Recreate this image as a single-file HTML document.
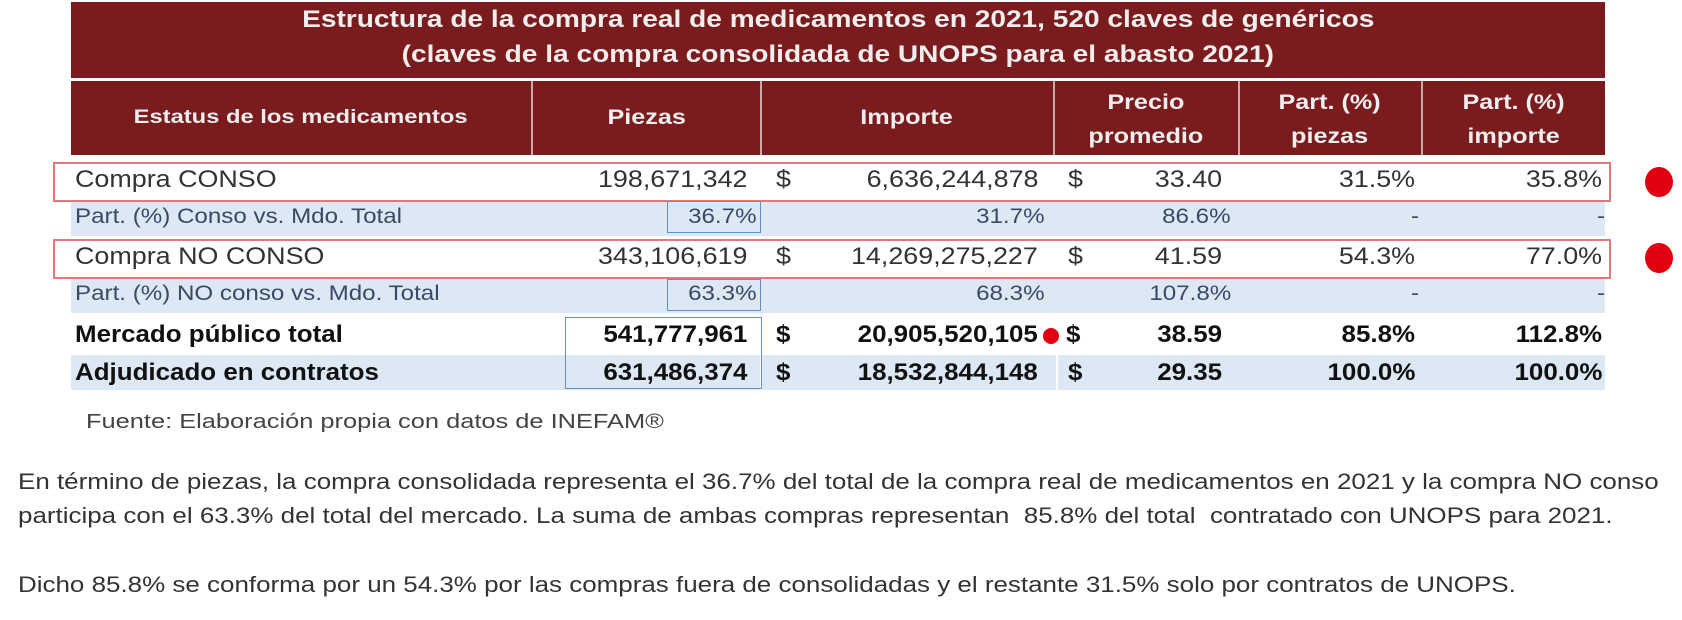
<!DOCTYPE html>
<html><head><meta charset="utf-8"><style>
body{margin:0;width:1682px;height:620px;background:#fff;position:relative;overflow:hidden;font-family:"Liberation Sans",sans-serif;color:#333}
.a{position:absolute}
.hd{background:#7a1c1e;color:#eee;font-weight:bold}
.c{position:absolute;white-space:nowrap;font-size:24px}
.c span{display:inline-block}
.l span{transform:scaleX(1.12);transform-origin:left center}
.r{text-align:right}
.r span{transform:scaleX(1.12);transform-origin:right center}
.m{text-align:center}
.m span{transform:scaleX(1.2);transform-origin:center center}
.p span{transform:scaleX(1.15)}
.blue{background:#dce8f4}
.b{font-weight:bold;color:#111}
.b span{transform:scaleX(1.08)}
.dot{position:absolute;background:#e00010;border-radius:50%}
.hh{color:#eee;font-weight:bold;font-size:20px;line-height:34px}
.pp{font-size:21px;color:#3a4a66}
</style></head><body>
<div class="a hd" style="left:71px;top:2px;width:1534px;height:76px"></div>
<div class="c m" style="left:71px;width:1534px;top:6px;color:#eee;font-weight:bold;font-size:24px"><span style="transform:scaleX(1.17)">Estructura de la compra real de medicamentos en 2021, 520 claves de genéricos</span></div>
<div class="c m" style="left:71px;width:1534px;top:41px;color:#eee;font-weight:bold;font-size:24px"><span style="transform:scaleX(1.17)">(claves de la compra consolidada de UNOPS para el abasto 2021)</span></div>
<div class="a hd" style="left:71px;top:81px;width:1534px;height:74px"></div>
<div class="a" style="left:531px;top:81px;width:2px;height:74px;background:#caa"></div>
<div class="a" style="left:760px;top:81px;width:2px;height:74px;background:#caa"></div>
<div class="a" style="left:1053px;top:81px;width:2px;height:74px;background:#caa"></div>
<div class="a" style="left:1238px;top:81px;width:2px;height:74px;background:#caa"></div>
<div class="a" style="left:1421px;top:81px;width:2px;height:74px;background:#caa"></div>
<div class="c m hh" style="left:71px;width:460px;top:101px;font-size:19px"><span style="transform:scaleX(1.25)">Estatus de los medicamentos</span></div>
<div class="c m hh" style="left:532px;width:229px;top:101px;font-size:21px"><span>Piezas</span></div>
<div class="c m hh" style="left:761px;width:292px;top:101px;font-size:21px"><span>Importe</span></div>
<div class="c m hh" style="left:1054px;width:184px;top:86px;font-size:21px"><span>Precio<br>promedio</span></div>
<div class="c m hh" style="left:1239px;width:182px;top:86px;font-size:21px"><span>Part. (%)<br>piezas</span></div>
<div class="c m hh" style="left:1422px;width:183px;top:86px;font-size:21px"><span>Part. (%)<br>importe</span></div>

<div class="a blue" style="left:71px;top:201px;width:1534px;height:35px"></div>
<div class="a blue" style="left:71px;top:278px;width:1534px;height:35px"></div>
<div class="a blue" style="left:71px;top:355px;width:1534px;height:35px"></div>
<div class="a" style="left:1056px;top:355px;width:2px;height:35px;background:#fff"></div>
<div class="a" style="left:760px;top:355px;width:2px;height:35px;background:#fff"></div>

<div class="a" style="left:53px;top:162px;width:1554px;height:36px;border:2px solid #e07a7a"></div>
<div class="a" style="left:53px;top:239px;width:1554px;height:36px;border:2px solid #e07a7a"></div>
<div class="a" style="left:667px;top:201px;width:92px;height:30px;border:1.5px solid #6a8cc8"></div>
<div class="a" style="left:667px;top:279px;width:92px;height:30px;border:1.5px solid #6a8cc8"></div>
<div class="a" style="left:565px;top:317px;width:195px;height:70px;border:1.5px solid #6a8cc8"></div>

<!-- row 1 -->
<div class="c l" style="left:75px;top:166px"><span>Compra CONSO</span></div>
<div class="c r" style="left:532px;width:215px;top:166px"><span>198,671,342</span></div>
<div class="c l" style="left:776px;top:166px"><span>$</span></div>
<div class="c r" style="left:780px;width:258px;top:166px"><span>6,636,244,878</span></div>
<div class="c l" style="left:1068px;top:166px"><span>$</span></div>
<div class="c r" style="left:1054px;width:168px;top:166px"><span>33.40</span></div>
<div class="c r" style="left:1239px;width:176px;top:166px"><span>31.5%</span></div>
<div class="c r" style="left:1422px;width:180px;top:166px"><span>35.8%</span></div>
<!-- row 2 -->
<div class="c l p pp" style="left:75px;top:205px"><span>Part. (%) Conso vs. Mdo. Total</span></div>
<div class="c r p pp" style="left:532px;width:225px;top:205px"><span>36.7%</span></div>
<div class="c r p pp" style="left:780px;width:265px;top:205px"><span>31.7%</span></div>
<div class="c r p pp" style="left:1054px;width:177px;top:205px"><span>86.6%</span></div>
<div class="c r p pp" style="left:1239px;width:180px;top:205px"><span>-</span></div>
<div class="c r p pp" style="left:1422px;width:183px;top:205px"><span>-</span></div>
<!-- row 3 -->
<div class="c l" style="left:75px;top:243px"><span>Compra NO CONSO</span></div>
<div class="c r" style="left:532px;width:215px;top:243px"><span>343,106,619</span></div>
<div class="c l" style="left:776px;top:243px"><span>$</span></div>
<div class="c r" style="left:780px;width:258px;top:243px"><span>14,269,275,227</span></div>
<div class="c l" style="left:1068px;top:243px"><span>$</span></div>
<div class="c r" style="left:1054px;width:168px;top:243px"><span>41.59</span></div>
<div class="c r" style="left:1239px;width:176px;top:243px"><span>54.3%</span></div>
<div class="c r" style="left:1422px;width:180px;top:243px"><span>77.0%</span></div>
<!-- row 4 -->
<div class="c l p pp" style="left:75px;top:282px"><span>Part. (%) NO conso vs. Mdo. Total</span></div>
<div class="c r p pp" style="left:532px;width:225px;top:282px"><span>63.3%</span></div>
<div class="c r p pp" style="left:780px;width:265px;top:282px"><span>68.3%</span></div>
<div class="c r p pp" style="left:1054px;width:177px;top:282px"><span>107.8%</span></div>
<div class="c r p pp" style="left:1239px;width:180px;top:282px"><span>-</span></div>
<div class="c r p pp" style="left:1422px;width:183px;top:282px"><span>-</span></div>
<!-- row 5 -->
<div class="c l b" style="left:75px;top:321px"><span>Mercado público total</span></div>
<div class="c r b" style="left:532px;width:215px;top:321px"><span>541,777,961</span></div>
<div class="c l b" style="left:776px;top:321px"><span>$</span></div>
<div class="c r b" style="left:780px;width:258px;top:321px"><span>20,905,520,105</span></div>
<div class="c l b" style="left:1066px;top:321px"><span>$</span></div>
<div class="c r b" style="left:1054px;width:168px;top:321px"><span>38.59</span></div>
<div class="c r b" style="left:1239px;width:176px;top:321px"><span>85.8%</span></div>
<div class="c r b" style="left:1422px;width:180px;top:321px"><span>112.8%</span></div>
<!-- row 6 -->
<div class="c l b" style="left:75px;top:359px"><span>Adjudicado en contratos</span></div>
<div class="c r b" style="left:532px;width:215px;top:359px"><span>631,486,374</span></div>
<div class="c l b" style="left:776px;top:359px"><span>$</span></div>
<div class="c r b" style="left:780px;width:258px;top:359px"><span>18,532,844,148</span></div>
<div class="c l b" style="left:1068px;top:359px"><span>$</span></div>
<div class="c r b" style="left:1054px;width:168px;top:359px"><span>29.35</span></div>
<div class="c r b" style="left:1239px;width:176px;top:359px"><span>100.0%</span></div>
<div class="c r b" style="left:1422px;width:180px;top:359px"><span>100.0%</span></div>

<div class="dot" style="left:1645px;top:167px;width:28px;height:30px"></div>
<div class="dot" style="left:1645px;top:243px;width:28px;height:30px"></div>
<div class="dot" style="left:1043px;top:328px;width:16px;height:16px"></div>

<div class="c l" style="left:86px;top:411px;font-size:20px;color:#444"><span style="transform:scaleX(1.27)">Fuente: Elaboración propia con datos de INEFAM®</span></div>
<div class="c l" style="left:18px;top:469px;font-size:22px;color:#333"><span style="transform:scaleX(1.18)">En término de piezas, la compra consolidada representa el 36.7% del total de la compra real de medicamentos en 2021 y la compra NO conso</span></div>
<div class="c l" style="left:18px;top:503px;font-size:22px;color:#333"><span style="transform:scaleX(1.18)">participa con el 63.3% del total del mercado. La suma de ambas compras representan&nbsp; 85.8% del total&nbsp; contratado con UNOPS para 2021.</span></div>
<div class="c l" style="left:18px;top:572px;font-size:22px;color:#333"><span style="transform:scaleX(1.18)">Dicho 85.8% se conforma por un 54.3% por las compras fuera de consolidadas y el restante 31.5% solo por contratos de UNOPS.</span></div>
</body></html>
